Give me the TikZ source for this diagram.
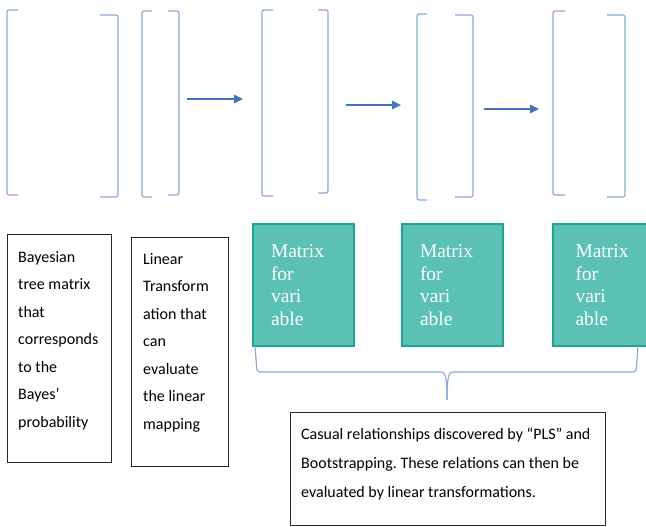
\documentclass[tikz,border=0pt]{standalone}
\usepackage{fontspec}
\setmainfont{Liberation Serif}
\newfontfamily\carlitofont{Carlito}
\usetikzlibrary{arrows.meta}
\frenchspacing
\definecolor{brk}{HTML}{8EA9DB}
\definecolor{arr}{HTML}{4472C4}
\definecolor{tealfill}{HTML}{5CC1B5}
\definecolor{tealline}{HTML}{1AA594}
\definecolor{boxline}{HTML}{262626}
\tikzset{
  brack/.style={draw=brk, line width=1.3pt, rounded corners=2pt},
  flow/.style={draw=arr, line width=1.3pt, -{Triangle[length=9pt,width=8.5pt]}},
  txtbox/.style={draw=boxline, line width=1.4pt, anchor=north west, inner sep=0pt},
  txt/.style={font=\carlitofont\fontsize{16}{27.5}\selectfont, align=left, anchor=north west, inner sep=0pt, text=black},
  mat/.style={draw=tealline, line width=2pt, fill=tealfill, anchor=north west,
    minimum width=101pt, minimum height=122pt, inner xsep=18pt, text width=65pt, align=left,
    text=white, font=\fontsize{19.5}{22.5}\selectfont},
}
\begin{document}
\begin{tikzpicture}[x=1pt,y=-1pt]
\useasboundingbox (0,0) rectangle (646,527);
% bracket pairs
\draw[brack] (18,10) -- (7,10) -- (7,195) -- (18,195);
\draw[brack] (100,15) -- (118,15) -- (118,197) -- (100,197);
\draw[brack] (152,11) -- (142,11) -- (142,197) -- (152,197);
\draw[brack] (168,11) -- (179,11) -- (179,195) -- (168,195);
\draw[brack] (273,10) -- (262,10) -- (262,196) -- (273,196);
\draw[brack] (318,10) -- (328,10) -- (328,193) -- (318,193);
\draw[brack] (427,14) -- (417,14) -- (417,200) -- (427,200);
\draw[brack] (455,15) -- (473,15) -- (473,197) -- (455,197);
\draw[brack] (565,11) -- (553,11) -- (553,195) -- (565,195);
\draw[brack] (607,15) -- (625,15) -- (625,197) -- (607,197);
% arrows
\coordinate (a1s) at (187,99);  \coordinate (a1e) at (243,99);
\coordinate (a2s) at (346,105); \coordinate (a2e) at (401,105);
\coordinate (a3s) at (484,109); \coordinate (a3e) at (539,109);
\draw[flow] (a1s) -- (a1e);
\draw[flow] (a2s) -- (a2e);
\draw[flow] (a3s) -- (a3e);
% text boxes
\node[txtbox, minimum width=104pt, minimum height=228pt] (b1) at (7,234) {};
\node[txt] (t1) at (18,251) {Bayesian\\tree matrix\\that\\corresponds\\to the\\Bayes’\\probability};
\node[txtbox, minimum width=97pt, minimum height=229pt] (b2) at (131,237) {};
\node[txt] (t2) at (143,253) {Linear\\Transform\\ation that\\can\\evaluate\\the linear\\mapping};
% teal boxes
\node[mat] (m1) at (252,223) {Matrix\\for\\vari\\able};
\node[mat] (m2) at (401,223) {Matrix\\for\\vari\\able};
\node[mat, minimum width=110pt] (m3) at (552,223) {Matrix\\for\\vari\\able};
% brace
\coordinate (tip) at (447,400);
\draw[brk, line width=1.2pt, rounded corners=3pt]
  (255,346) -- (257,372) -- (438,372) .. controls (445,372) and (447,376) .. (tip);
\draw[brk, line width=1.2pt, rounded corners=3pt]
  (638,346) -- (636,372) -- (456,372) .. controls (449,372) and (447,376) .. (tip);
% bottom box
\node[txtbox, minimum width=315pt, minimum height=113pt] (b3) at (290,412) {};
\node[txt, font=\carlitofont\fontsize{16}{29}\selectfont] (t3) at (301,428) {Casual relationships discovered by “PLS” and\\Bootstrapping. These relations can then be\\evaluated by linear transformations.};
\end{tikzpicture}
\end{document}
